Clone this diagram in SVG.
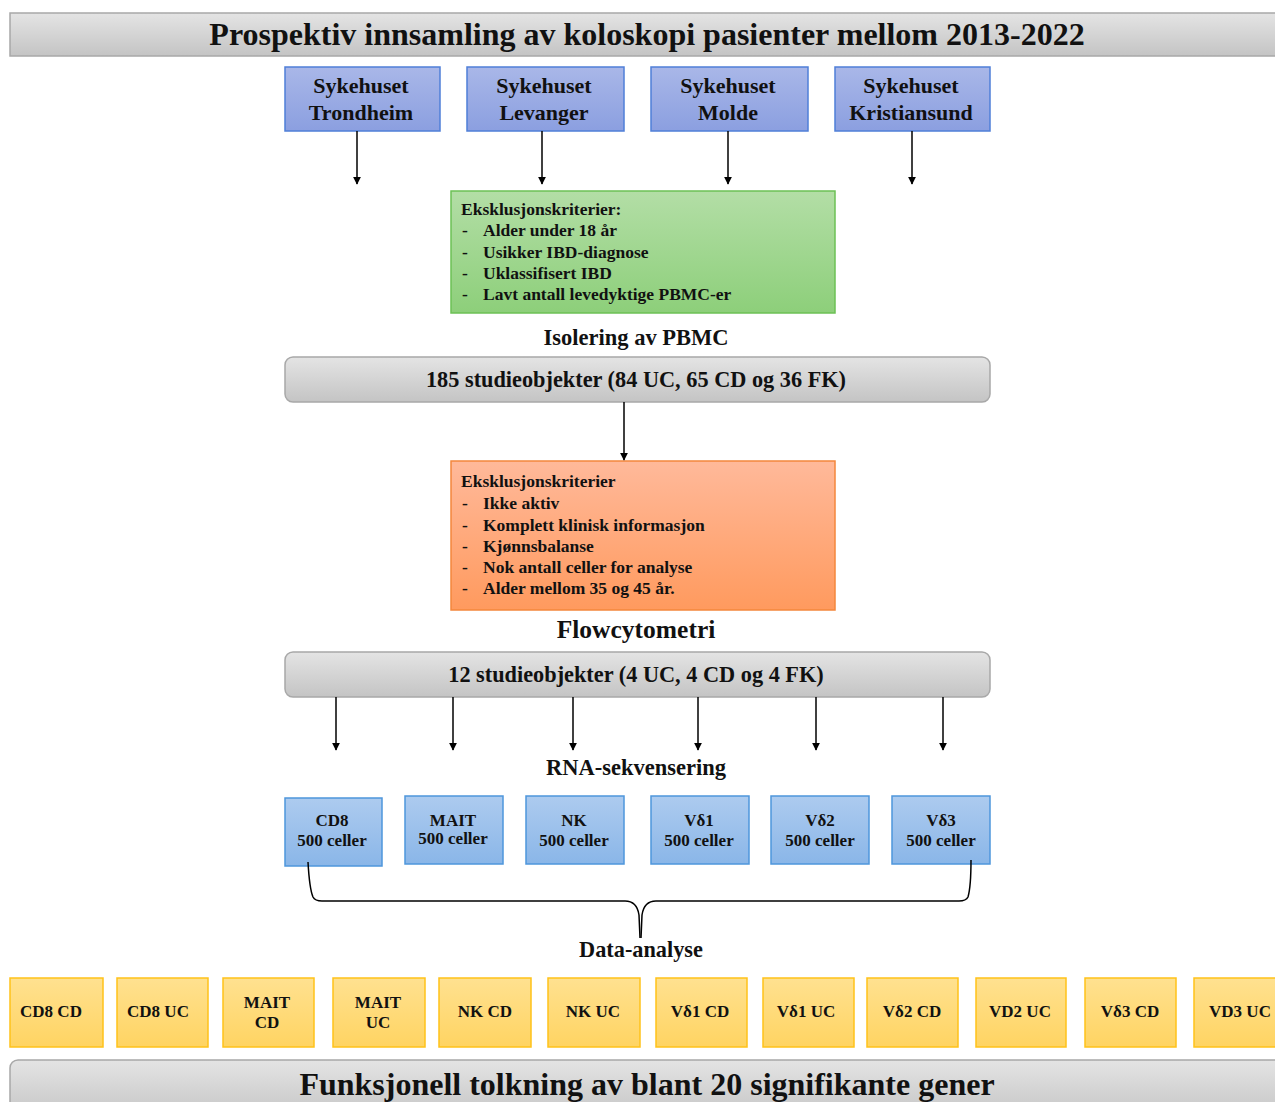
<svg xmlns="http://www.w3.org/2000/svg" width="1275" height="1102" viewBox="0 0 1275 1102">
<defs>
<linearGradient id="gGrey" x1="0" y1="0" x2="0" y2="1"><stop offset="0" stop-color="#e4e4e4"/><stop offset="1" stop-color="#c4c4c4"/></linearGradient>
<linearGradient id="gHosp" x1="0" y1="0" x2="0" y2="1"><stop offset="0" stop-color="#a9b7e8"/><stop offset="1" stop-color="#8b9fe0"/></linearGradient>
<linearGradient id="gGreen" x1="0" y1="0" x2="0" y2="1"><stop offset="0" stop-color="#b3dea6"/><stop offset="1" stop-color="#8dcf7a"/></linearGradient>
<linearGradient id="gOrange" x1="0" y1="0" x2="0" y2="1"><stop offset="0" stop-color="#ffb99a"/><stop offset="1" stop-color="#ff9a5e"/></linearGradient>
<linearGradient id="gCell" x1="0" y1="0" x2="0" y2="1"><stop offset="0" stop-color="#adcbef"/><stop offset="1" stop-color="#8ab6e8"/></linearGradient>
<linearGradient id="gYellow" x1="0" y1="0" x2="0" y2="1"><stop offset="0" stop-color="#ffe190"/><stop offset="1" stop-color="#ffd462"/></linearGradient>
<marker id="arr" viewBox="0 0 10 10" refX="9" refY="5" markerWidth="8" markerHeight="8" markerUnits="userSpaceOnUse" orient="auto"><path d="M0,0 L10,5 L0,10 z" fill="#000"/></marker>
</defs>
<style>
text{font-family:"Liberation Serif","Times New Roman",serif;font-weight:bold;fill:#111}
.bar{fill:url(#gGrey);stroke:#a8a8a8;stroke-width:1.5}
.hosp{fill:url(#gHosp);stroke:#4f7fd8;stroke-width:1.5}
.cell{fill:url(#gCell);stroke:#4e96dc;stroke-width:1.5}
.yel{fill:url(#gYellow);stroke:#ffc21a;stroke-width:1.5}
.big{font-size:32px}
.h22{font-size:22px}
.t15{font-size:17.5px}
.t14{font-size:17px}
.cl{font-size:17px}
.lbl{font-size:22.5px}
.c{text-anchor:middle}
.conn line,.conn path{stroke:#000;stroke-width:1.5;fill:none}
</style>
<rect width="1275" height="1102" fill="#fff"/>

<g id="title">
<rect class="bar" x="10" y="13" width="1275" height="43"/>
<text class="big c" x="647" y="45">Prospektiv innsamling av koloskopi pasienter mellom 2013-2022</text>
</g>

<g id="h1"><rect class="hosp" x="285" y="67" width="155" height="64"/><text class="h22 c" x="361" y="93">Sykehuset</text><text class="h22 c" x="361" y="120">Trondheim</text></g>
<g id="h2"><rect class="hosp" x="467" y="67" width="157" height="64"/><text class="h22 c" x="544" y="93">Sykehuset</text><text class="h22 c" x="544" y="120">Levanger</text></g>
<g id="h3"><rect class="hosp" x="651" y="67" width="157" height="64"/><text class="h22 c" x="728" y="93">Sykehuset</text><text class="h22 c" x="728" y="120">Molde</text></g>
<g id="h4"><rect class="hosp" x="835" y="67" width="155" height="64"/><text class="h22 c" x="911" y="93">Sykehuset</text><text class="h22 c" x="911" y="120">Kristiansund</text></g>

<g id="excl1">
<rect x="451" y="191" width="384" height="122" fill="url(#gGreen)" stroke="#6cc155" stroke-width="1.5"/>
<text class="t15" x="461" y="215">Eksklusjonskriterier:</text>
<text class="t15" x="462" y="236">-</text><text class="t15" x="483" y="236">Alder under 18 år</text>
<text class="t15" x="462" y="258">-</text><text class="t15" x="483" y="258">Usikker IBD-diagnose</text>
<text class="t15" x="462" y="279">-</text><text class="t15" x="483" y="279">Uklassifisert IBD</text>
<text class="t15" x="462" y="300">-</text><text class="t15" x="483" y="300">Lavt antall levedyktige PBMC-er</text>
</g>

<g id="lbl-isolering"><text class="lbl c" x="636" y="345">Isolering av PBMC</text></g>

<g id="n185">
<rect class="bar" x="285" y="357" width="705" height="45" rx="8"/>
<text class="c" x="636" y="387" font-size="22.3">185 studieobjekter (84 UC, 65 CD og 36 FK)</text>
</g>

<g id="excl2">
<rect x="451" y="461" width="384" height="149" fill="url(#gOrange)" stroke="#f4873c" stroke-width="1.5"/>
<text class="t15" x="461" y="487">Eksklusjonskriterier</text>
<text class="t15" x="462" y="509">-</text><text class="t15" x="483" y="509">Ikke aktiv</text>
<text class="t15" x="462" y="531">-</text><text class="t15" x="483" y="531">Komplett klinisk informasjon</text>
<text class="t15" x="462" y="552">-</text><text class="t15" x="483" y="552">Kjønnsbalanse</text>
<text class="t15" x="462" y="573">-</text><text class="t15" x="483" y="573">Nok antall celler for analyse</text>
<text class="t15" x="462" y="594">-</text><text class="t15" x="483" y="594">Alder mellom 35 og 45 år.</text>
</g>

<g id="lbl-flow"><text class="c" x="636" y="638" font-size="25.5">Flowcytometri</text></g>

<g id="n12">
<rect class="bar" x="285" y="652" width="705" height="45" rx="8"/>
<text class="c" x="636" y="682" font-size="22.3">12 studieobjekter (4 UC, 4 CD og 4 FK)</text>
</g>

<g id="lbl-rna"><text class="lbl c" x="636" y="775">RNA-sekvensering</text></g>

<g id="cd8"><rect class="cell" x="285" y="798" width="97" height="68"/><text class="cl c" x="332" y="826">CD8</text><text class="cl c" x="332" y="846">500 celler</text></g>
<g id="mait"><rect class="cell" x="405" y="796" width="98" height="68"/><text class="cl c" x="453" y="826">MAIT</text><text class="cl c" x="453" y="844">500 celler</text></g>
<g id="nk"><rect class="cell" x="526" y="796" width="98" height="68"/><text class="cl c" x="574" y="826">NK</text><text class="cl c" x="574" y="846">500 celler</text></g>
<g id="vd1"><rect class="cell" x="651" y="796" width="98" height="68"/><text class="cl c" x="699" y="826">Vδ1</text><text class="cl c" x="699" y="846">500 celler</text></g>
<g id="vd2"><rect class="cell" x="771" y="796" width="98" height="68"/><text class="cl c" x="820" y="826">Vδ2</text><text class="cl c" x="820" y="846">500 celler</text></g>
<g id="vd3"><rect class="cell" x="892" y="796" width="98" height="68"/><text class="cl c" x="941" y="826">Vδ3</text><text class="cl c" x="941" y="846">500 celler</text></g>

<g id="lbl-data"><text class="c" x="641" y="957" font-size="22.3">Data-analyse</text></g>

<g id="res">
<g id="r1"><rect class="yel" x="10" y="978" width="93" height="69"/><text class="t14 c" x="51" y="1017">CD8 CD</text></g>
<g id="r2"><rect class="yel" x="117" y="978" width="91" height="69"/><text class="t14 c" x="158" y="1017">CD8 UC</text></g>
<g id="r3"><rect class="yel" x="223" y="978" width="91" height="69"/><text class="t14 c" x="267" y="1008">MAIT</text><text class="t14 c" x="267" y="1028">CD</text></g>
<g id="r4"><rect class="yel" x="333" y="978" width="92" height="69"/><text class="t14 c" x="378" y="1008">MAIT</text><text class="t14 c" x="378" y="1028">UC</text></g>
<g id="r5"><rect class="yel" x="439" y="978" width="92" height="69"/><text class="t14 c" x="485" y="1017">NK CD</text></g>
<g id="r6"><rect class="yel" x="548" y="978" width="92" height="69"/><text class="t14 c" x="593" y="1017">NK UC</text></g>
<g id="r7"><rect class="yel" x="656" y="978" width="91" height="69"/><text class="t14 c" x="700" y="1017">Vδ1 CD</text></g>
<g id="r8"><rect class="yel" x="763" y="978" width="91" height="69"/><text class="t14 c" x="806" y="1017">Vδ1 UC</text></g>
<g id="r9"><rect class="yel" x="867" y="978" width="91" height="69"/><text class="t14 c" x="912" y="1017">Vδ2 CD</text></g>
<g id="r10"><rect class="yel" x="976" y="978" width="90" height="69"/><text class="t14 c" x="1020" y="1017">VD2 UC</text></g>
<g id="r11"><rect class="yel" x="1085" y="978" width="91" height="69"/><text class="t14 c" x="1130" y="1017">Vδ3 CD</text></g>
<g id="r12"><rect class="yel" x="1194" y="978" width="91" height="69"/><text class="t14 c" x="1240" y="1017">VD3 UC</text></g>
</g>

<g id="bottom">
<rect class="bar" x="10" y="1060" width="1275" height="60" rx="8"/>
<text class="big c" x="647" y="1095">Funksjonell tolkning av blant 20 signifikante gener</text>
</g>

<g class="conn" id="connectors">
<line x1="357" y1="131" x2="357" y2="184" marker-end="url(#arr)"/>
<line x1="542" y1="131" x2="542" y2="184" marker-end="url(#arr)"/>
<line x1="728" y1="131" x2="728" y2="184" marker-end="url(#arr)"/>
<line x1="912" y1="131" x2="912" y2="184" marker-end="url(#arr)"/>
<line x1="624" y1="402" x2="624" y2="460" marker-end="url(#arr)"/>
<line x1="336" y1="697" x2="336" y2="750" marker-end="url(#arr)"/>
<line x1="453" y1="697" x2="453" y2="750" marker-end="url(#arr)"/>
<line x1="573" y1="697" x2="573" y2="750" marker-end="url(#arr)"/>
<line x1="698" y1="697" x2="698" y2="750" marker-end="url(#arr)"/>
<line x1="816" y1="697" x2="816" y2="750" marker-end="url(#arr)"/>
<line x1="943" y1="697" x2="943" y2="750" marker-end="url(#arr)"/>
<path d="M308,862 C309,880 310,890 313,897 Q315,901 322,901 L625,901 Q637,901 639,915 L640,938"/>
<path d="M971,860 C971,880 970,890 968,897 Q966,901 959,901 L656,901 Q644,901 642,915 L641,938"/>
</g>
</svg>
